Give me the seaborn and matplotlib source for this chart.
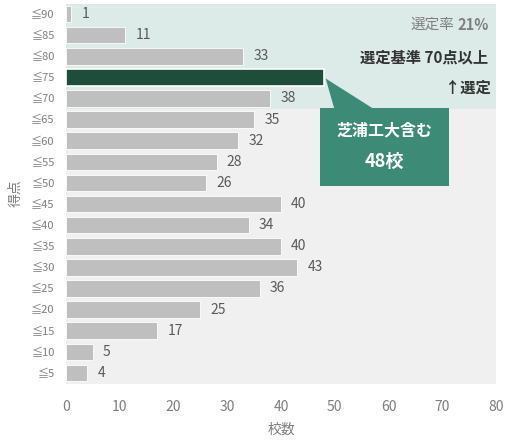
import matplotlib
matplotlib.use("Agg")
import matplotlib.pyplot as plt
import seaborn as sns
import pandas as pd
from matplotlib.patches import Polygon, Rectangle

sns.set_theme(style="white")
plt.rcParams['font.family'] = ['Noto Sans CJK JP', 'DejaVu Sans']

categories = ["≦90", "≦85", "≦80", "≦75", "≦70", "≦65", "≦60", "≦55", "≦50",
              "≦45", "≦40", "≦35", "≦30", "≦25", "≦20", "≦15", "≦10", "≦5"]
counts = [1, 11, 33, 48, 38, 35, 32, 28, 26, 40, 34, 40, 43, 36, 25, 17, 5, 4]
highlight = "≦75"
selected_until = "≦70"
x_ticks = [0, 10, 20, 30, 40, 50, 60, 70, 80]

GRAY_BAR = "#bfbfbf"
DARK = "#1e4d3c"
BOX = "#3d8b77"
TEXT_GRAY = "#7f7f7f"

df = pd.DataFrame({"score": categories, "count": counts})
palette = {c: (DARK if c == highlight else GRAY_BAR) for c in categories}

fig = plt.figure(figsize=(5.06, 4.41), dpi=100)
ax = fig.add_axes([66/506, 1-383.5/441, 430/506, 380/441])
ax.set_facecolor("#f0f0f0")

sns.barplot(data=df, x="count", y="score", hue="score", palette=palette,
            legend=False, orient="h", width=0.78, ax=ax, saturation=1, zorder=2)

hi = categories.index(highlight)
sel = categories.index(selected_until)
ax.axhspan(-0.5, sel + 0.5, color="#dcebe7", zorder=0, lw=0)

for p, c in zip(ax.patches, categories):
    p.set_edgecolor("white")
    p.set_linewidth(1.2 if c == highlight else 0.6)

for i, (c, v) in enumerate(zip(categories, counts)):
    if c == highlight:
        continue
    ax.text(v + 1.9, i, str(v), va="center", ha="left", fontsize=10,
            color="#595959", zorder=3)

ax.set_xlim(0, 80)
ax.set_ylim(len(categories) - 0.5, -0.5)
ax.set_xticks(x_ticks)
ax.set_xticklabels([str(t) for t in x_ticks])
ax.tick_params(axis="x", colors=TEXT_GRAY, labelsize=10, length=0, pad=12)
ax.tick_params(axis="y", colors=TEXT_GRAY, labelsize=8, length=0, pad=8)
for s in ax.spines.values():
    s.set_visible(False)
ax.set_xlabel("校数", color=TEXT_GRAY, fontsize=10, labelpad=6)
ax.set_ylabel("得点", color=TEXT_GRAY, fontsize=10, labelpad=6)

# callout
hv = counts[hi]
bx0, bx1 = hv - 0.7, hv + 23.3
by0, by1 = sel + 0.45, sel + 4.15
tri = Polygon([(hv + 0.3, hi + 0.05), (bx0 + 2.6, by0 + 0.02), (bx0 + 9.8, by0 + 0.02)],
              closed=True, facecolor=BOX, edgecolor="none", zorder=4)
ax.add_patch(tri)
ax.add_patch(Rectangle((bx0, by0), bx1 - bx0, by1 - by0, facecolor=BOX,
                       edgecolor="none", zorder=4))
cx = (bx0 + bx1) / 2
ax.text(cx, sel + 1.5, "芝浦工大含む", color="white", fontsize=11.5,
        fontweight="bold", ha="center", va="center", zorder=5)
ax.text(cx, sel + 3.0, f"{hv}校", color="white", fontsize=13,
        fontweight="bold", ha="center", va="center", zorder=5)

# right texts
ax.text(78.6, 0.52, "21%", color=TEXT_GRAY, fontsize=10.5, fontweight="bold",
        ha="right", va="center", zorder=5)
ax.text(72.2, 0.52, "選定率", color=TEXT_GRAY, fontsize=10.5,
        ha="right", va="center", zorder=5)
ax.text(78.6, 2.08, "選定基準 70点以上", color="#333333", fontsize=11,
        fontweight="bold", ha="right", va="center", zorder=5)
ax.text(79.0, 3.5, "↑選定", color="#333333", fontsize=11,
        fontweight="bold", ha="right", va="center", zorder=5)

fig.savefig("out.png", dpi=100, facecolor="white")
